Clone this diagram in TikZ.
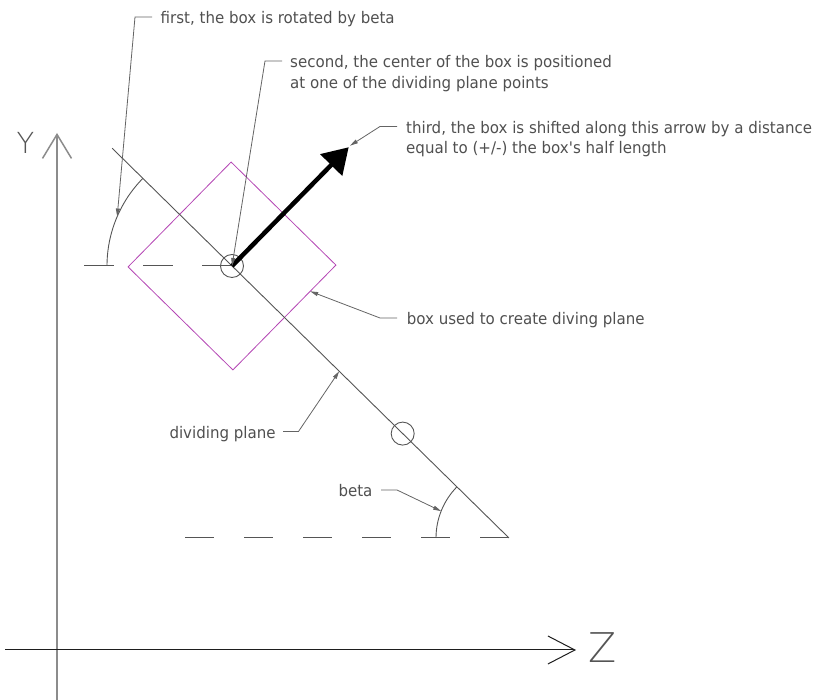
\documentclass[tikz,border=0pt]{standalone}
\usepackage{fontspec}
\setmainfont{DejaVu Sans}[FakeStretch=0.94,Ligatures=TeXOff]
\newfontfamily\thinfont{DejaVu Sans ExtraLight}
\usetikzlibrary{arrows.meta,calc}
\definecolor{txt}{RGB}{80,80,80}
\definecolor{ln}{RGB}{85,85,85}
\definecolor{ldr}{RGB}{100,100,100}
\definecolor{boxc}{RGB}{180,70,180}
\begin{document}
\begin{tikzpicture}[x=1pt,y=1pt,
  lbl/.style={font=\fontsize{16}{20}\selectfont, text=txt, inner sep=0pt, anchor=base west},
  axlbl/.style={text=ln, inner sep=0pt},
  leader/.style={draw=ldr, line width=0.8pt, -{Triangle[length=8pt,width=4pt]}},
  thin line/.style={draw=ln, line width=0.9pt},
  dashline/.style={draw=ln, line width=1pt},
  marker/.style={circle, draw=ln, line width=0.9pt, minimum size=23pt, inner sep=0pt, outer sep=0pt}
]
\useasboundingbox (0,0) rectangle (820,700);
% key points
\coordinate (C) at (232,434);
\coordinate (E) at (509,162);
\coordinate (P0) at ($(C)+(135.5:168)$);
\coordinate (T) at ($(C)+(45.5:166.5)$);
% axes
\coordinate (ybot) at (57,0);
\coordinate (ytop) at (57,567);
\coordinate (zleft) at (5,50);
\coordinate (zright) at (576,50);
\draw[draw={rgb,255:red,140;green,140;blue,140}, line width=1.5pt, -{Straight Barb[length=24pt,width=29pt]}] (ybot) -- (ytop);
\draw[draw={rgb,255:red,30;green,30;blue,30}, line width=1pt, -{Straight Barb[length=27pt,width=28pt]}] (zleft) -- (zright);
\node[axlbl, font=\thinfont\fontsize{29}{29}\selectfont] (ylab) at (25.5,557.5) {Y};
\node[axlbl, font=\thinfont\fontsize{41}{41}\selectfont] (zlab) at (603,52) {Z};
% box
\node[draw=boxc, line width=0.8pt, minimum size=147pt, inner sep=0pt, outer sep=0pt, rotate=45.5] (box) at (C) {};
% dividing plane
\draw[thin line] (P0) -- (E);
\draw[dashline, dash pattern=on 29.5pt off 29.5pt] (84,434) -- (C);
\draw[dashline, dash pattern=on 28.5pt off 30.5pt] (185,162) -- (E);
\node[marker] (c1) at (C) {};
\node[marker] (c2) at ($(C)!0.6162!(E)$) {};
% angle arcs
\draw[thin line] ($(C)+(180:125)$) arc[start angle=180, end angle=135.5, radius=125pt];
\draw[thin line] ($(E)+(180:73)$) arc[start angle=180, end angle=135.5, radius=73pt];
\coordinate (a1) at ($(C)+(156.7:125)$);
\coordinate (a2) at ($(E)+(158.4:73)$);
% thick arrow
\draw[line width=4.5pt, -{Triangle[length=25pt,width=30pt]}] (C) -- (T);
% labels
\node[lbl] (t1) at (160.5,676) {first, the box is rotated by beta};
\node[lbl] (t2a) at (290,632) {second, the center of the box is positioned};
\node[lbl] (t2b) at (290,611.7) {at one of the dividing plane points};
\node[lbl] (t3a) at (406,566.7) {third, the box is shifted along this arrow by a distance};
\node[lbl] (t3b) at (406,546.5) {equal to (+/-) the box's half length};
\node[lbl] (t4) at (406.7,375) {box used to create diving plane};
\node[lbl] (t5) at (169.3,261.7) {dividing plane};
\node[lbl] (t6) at (338.3,203.3) {beta};
% leaders
\coordinate (l1a) at (152,683); \coordinate (l1b) at (135,683);
\coordinate (l2a) at (282,639); \coordinate (l2b) at (265,639);
\coordinate (l3a) at (397,573.5); \coordinate (l3b) at (380,573.5);
\coordinate (l4a) at (397,382); \coordinate (l4b) at (380,382);
\coordinate (l5a) at (283,268.5); \coordinate (l5b) at (298.5,268.5);
\coordinate (l6a) at (381,210); \coordinate (l6b) at (397,210);
\coordinate (tip3) at (350,554.3);
\coordinate (bx) at ($(box.south east)!0.25!(box.south west)$);
\coordinate (dp) at ($(C)!0.387!(E)$);
\draw[leader] (l1a) -- (l1b) -- (a1);
\draw[leader] (l2a) -- (l2b) -- (c1.center);
\draw[leader] (l3a) -- (l3b) -- (tip3);
\draw[leader] (l4a) -- (l4b) -- (bx);
\draw[leader] (l5a) -- (l5b) -- (dp);
\draw[leader] (l6a) -- (l6b) -- (a2);
\end{tikzpicture}
\end{document}
